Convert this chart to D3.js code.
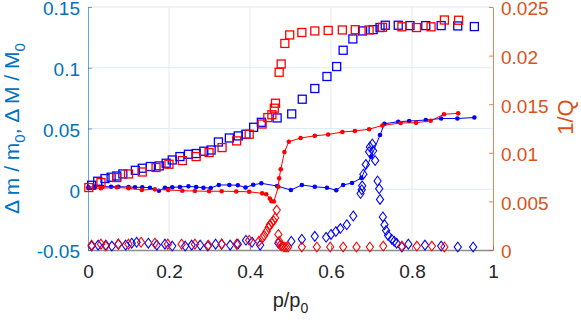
<!DOCTYPE html>
<html>
<head>
<meta charset="utf-8">
<script src="https://cdn.jsdelivr.net/npm/d3@7"></script>
<style>
  body { margin: 0; background: #fff; }
  text { font-family: "Liberation Sans", Arial, Helvetica, sans-serif; }
</style>
</head>
<body>
<div id="chart"></div>
<script>
// ---- data (x = p/p0) ----
// squares, left axis (delta m / m0, delta M / M0)
const blueSqX = [0.009,0.024,0.042,0.057,0.071,0.086,0.117,0.134,0.154,0.176,0.193,0.208,0.227,0.248,0.267,0.286,0.304,0.322,0.349,0.371,0.390,0.409,0.428,0.467,0.503,0.529,0.560,0.590,0.614,0.630,0.654,0.678,0.704,0.721,0.734,0.766,0.795,0.834,0.872,0.913,0.954];
const blueSqY = [0.0033,0.0066,0.0088,0.0099,0.0109,0.0126,0.0156,0.0173,0.0187,0.0192,0.0214,0.0241,0.0269,0.0288,0.0294,0.0313,0.0323,0.0389,0.0422,0.0439,0.0453,0.0510,0.0551,0.0587,0.0620,0.0741,0.0829,0.0928,0.1010,0.1144,0.1237,0.1303,0.1314,0.1331,0.1350,0.1350,0.1347,0.1347,0.1347,0.1344,0.1339];
const redSqX = [0.002,0.032,0.071,0.100,0.134,0.168,0.200,0.233,0.267,0.299,0.331,0.367,0.398,0.430,0.444,0.454,0.460,0.463,0.472,0.477,0.486,0.498,0.528,0.560,0.593,0.628,0.660,0.694,0.727,0.775,0.811,0.847,0.880,0.915];
const redSqY = [0.0014,0.0055,0.0096,0.0126,0.0142,0.0179,0.0206,0.0236,0.0269,0.0302,0.0343,0.0398,0.0453,0.0537,0.0590,0.0613,0.0667,0.0708,0.0963,0.1031,0.1200,0.1270,0.1290,0.1303,0.1307,0.1311,0.1313,0.1311,0.1333,0.1337,0.1331,0.1337,0.1393,0.1391];

// dots with lines, right axis (1/Q)
const blueDotX = [0.001,0.017,0.035,0.057,0.075,0.100,0.116,0.134,0.153,0.175,0.190,0.208,0.227,0.248,0.267,0.285,0.303,0.323,0.349,0.370,0.389,0.408,0.428,0.467,0.501,0.528,0.560,0.590,0.613,0.630,0.652,0.675,0.699,0.721,0.732,0.766,0.793,0.834,0.872,0.912,0.954];
const blueDotY = [0.00645,0.00651,0.00651,0.00651,0.00651,0.00648,0.00645,0.00645,0.00641,0.00610,0.00641,0.00645,0.00648,0.00655,0.00648,0.00641,0.00638,0.00669,0.00669,0.00666,0.00643,0.00671,0.00686,0.00658,0.00617,0.00669,0.00650,0.00641,0.00615,0.00669,0.00689,0.00741,0.00957,0.01183,0.01299,0.01320,0.01327,0.01337,0.01353,0.01353,0.01363];
const redDotX = [0.001,0.032,0.071,0.100,0.133,0.165,0.198,0.233,0.264,0.299,0.330,0.366,0.398,0.430,0.440,0.449,0.453,0.459,0.470,0.472,0.476,0.485,0.496,0.525,0.560,0.593,0.628,0.659,0.694,0.727,0.772,0.810,0.846,0.879,0.914];
const redDotY = [0.00635,0.00635,0.00645,0.00635,0.00617,0.00624,0.00617,0.00610,0.00607,0.00604,0.00605,0.00602,0.00599,0.00583,0.00574,0.00530,0.00502,0.00499,0.00651,0.00737,0.00830,0.01008,0.01114,0.01152,0.01175,0.01188,0.01214,0.01224,0.01243,0.01281,0.01307,0.01310,0.01329,0.01397,0.01406];

// diamonds, right axis
const blueDiaX = [0.009,0.025,0.044,0.059,0.075,0.093,0.108,0.120,0.149,0.170,0.190,0.208,0.240,0.256,0.277,0.296,0.315,0.330,0.351,0.370,0.390,0.405,0.425,0.470,0.502,0.528,0.560,0.588,0.600,0.612,0.623,0.639,0.655,0.673,0.676,0.677,0.680,0.686,0.694,0.696,0.702,0.704,0.709,0.715,0.719,0.721,0.728,0.732,0.736,0.741,0.750,0.756,0.762,0.775,0.791,0.832,0.872,0.913,0.951];
const blueDiaY = [0.0003,0.0004,0.0004,0.0003,0.0005,0.0004,0.0006,0.0007,0.0006,0.0004,0.0005,0.0003,0.0003,0.0004,0.0004,0.0003,0.0005,0.0005,0.0004,0.0005,0.0009,0.0007,0.0004,0.0006,0.0008,0.0010,0.0013,0.0012,0.0015,0.0018,0.0021,0.0025,0.0034,0.0057,0.0061,0.0065,0.0077,0.0087,0.0100,0.0105,0.0108,0.0101,0.0091,0.0070,0.0062,0.0051,0.0033,0.0025,0.0019,0.0014,0.0010,0.0008,0.0006,0.0002,0.0005,0.0004,0.0003,0.0002,0.0002];
const redDiaX = [0.009,0.032,0.044,0.075,0.100,0.131,0.165,0.197,0.231,0.264,0.297,0.330,0.367,0.398,0.422,0.430,0.435,0.441,0.446,0.449,0.454,0.458,0.462,0.466,0.470,0.472,0.475,0.479,0.484,0.489,0.494,0.528,0.565,0.598,0.630,0.663,0.696,0.729,0.775,0.812,0.849,0.880];
const redDiaY = [0.0004,0.0005,0.0003,0.0005,0.0005,0.0007,0.0006,0.0005,0.0005,0.0005,0.0004,0.0005,0.0005,0.0009,0.0008,0.0011,0.0014,0.0018,0.0022,0.0025,0.0027,0.0029,0.0032,0.0040,0.0015,0.0008,0.0004,0.0003,0.0002,0.0002,0.0002,0.0002,0.0002,0.0002,0.0002,0.0002,0.0002,0.0003,0.0003,0.0003,0.0003,0.0002];

const xTicks = [0, 0.2, 0.4, 0.6, 0.8, 1];
const leftTicks = [-0.05, 0, 0.05, 0.1, 0.15];
const rightTicks = [0, 0.005, 0.01, 0.015, 0.02, 0.025];

// ---- layout ----
const W = 581, H = 321;
const margin = {top: 7, right: 88, bottom: 71, left: 88};
const leftColor = "#0072BD", rightColor = "#D95319";

const svg = d3.select("#chart").append("svg")
    .attr("width", W).attr("height", H);

const x = d3.scaleLinear().domain([0, 1]).range([margin.left, W - margin.right]);
const yL = d3.scaleLinear().domain([-0.05, 0.15]).range([H - margin.bottom, margin.top]);
const yR = d3.scaleLinear().domain([0, 0.025]).range([H - margin.bottom, margin.top]);

// matlab style labels, plain hyphen for minus
const fmt = d => String(+d.toFixed(3));

// grid
svg.append("g").selectAll("line").data(xTicks.slice(1, -1)).join("line")
    .attr("x1", d => x(d)).attr("x2", d => x(d))
    .attr("y1", yL.range()[0]).attr("y2", yL.range()[1])
    .attr("stroke", "#e6e9ee").attr("stroke-width", 1);
svg.append("g").selectAll("line").data(leftTicks.slice(1, -1)).join("line")
    .attr("x1", x(0)).attr("x2", x(1))
    .attr("y1", d => yL(d)).attr("y2", d => yL(d))
    .attr("stroke", "#ddebf6").attr("stroke-width", 1);

// box top
svg.append("line").attr("x1", x(0)).attr("x2", x(1))
    .attr("y1", yL(0.15)).attr("y2", yL(0.15))
    .attr("stroke", "#e3e7ec");

// axes
const xAxis = svg.append("g")
    .attr("transform", `translate(0,${H - margin.bottom})`)
    .call(d3.axisBottom(x).tickValues(xTicks).tickSizeInner(-4).tickSizeOuter(0).tickPadding(15).tickFormat(fmt));
xAxis.select(".domain").attr("stroke", "#8c8c8c").attr("stroke-width", 1.5);
xAxis.selectAll(".tick line").attr("stroke", "#8c8c8c");
xAxis.selectAll("text").attr("fill", "#262626").style("font-size", "19px");

const lAxis = svg.append("g")
    .attr("transform", `translate(${margin.left},0)`)
    .call(d3.axisLeft(yL).tickValues(leftTicks).tickSizeInner(-4).tickSizeOuter(0).tickPadding(8).tickFormat(fmt));
lAxis.select(".domain").attr("stroke", leftColor).attr("stroke-opacity", 0.6);
lAxis.selectAll(".tick line").attr("stroke", leftColor).attr("stroke-opacity", 0.6);
lAxis.selectAll("text").attr("fill", leftColor).attr("dy", "0.42em").style("font-size", "19px");

const rAxis = svg.append("g")
    .attr("transform", `translate(${W - margin.right},0)`)
    .call(d3.axisRight(yR).tickValues(rightTicks).tickSizeInner(-4).tickSizeOuter(0).tickPadding(8).tickFormat(fmt));
rAxis.select(".domain").attr("stroke", rightColor).attr("stroke-opacity", 0.7);
rAxis.selectAll(".tick line").attr("stroke", rightColor).attr("stroke-opacity", 0.7);
rAxis.selectAll("text").attr("fill", rightColor).attr("dy", "0.42em").style("font-size", "19px");

svg.selectAll(".tick text").attr("font-family", null);

// ---- marks ----
const plot = svg.append("g");
const zip = (xs, ys) => xs.map((v, i) => [v, ys[i]]);

function diamonds(xs, ys, color) {
    const sym = d3.symbol().type(d3.symbolDiamond2).size(46);
    plot.append("g").selectAll("path").data(zip(xs, ys)).join("path")
        .attr("d", sym)
        .attr("transform", d => `translate(${x(d[0])},${yR(d[1]) - 1}) scale(0.85,1.15)`)
        .attr("fill", "none").attr("stroke", color).attr("stroke-width", 1.1);
}
function dotLine(xs, ys, color) {
    const pts = zip(xs, ys);
    plot.append("path").datum(pts)
        .attr("d", d3.line().x(d => x(d[0])).y(d => yR(d[1])))
        .attr("fill", "none").attr("stroke", color).attr("stroke-width", 1);
    plot.append("g").selectAll("circle").data(pts).join("circle")
        .attr("cx", d => x(d[0])).attr("cy", d => yR(d[1])).attr("r", 2.3)
        .attr("fill", color);
}
function squares(xs, ys, color) {
    const s = 8;
    plot.append("g").selectAll("rect").data(zip(xs, ys)).join("rect")
        .attr("x", d => x(d[0]) - s / 2).attr("y", d => yL(d[1]) - s / 2)
        .attr("width", s).attr("height", s)
        .attr("fill", "none").attr("stroke", color).attr("stroke-width", 1.3);
}

diamonds(blueDiaX, blueDiaY, "#0000ff");
diamonds(redDiaX, redDiaY, "#ff0000");
dotLine(blueDotX, blueDotY, "#0000ff");
dotLine(redDotX, redDotY, "#ff0000");
squares(blueSqX, blueSqY, "#0000ff");
squares(redSqX, redSqY, "#ff0000");

// ---- labels ----
const yl = svg.append("text")
    .attr("transform", `translate(19,${(margin.top + H - margin.bottom) / 2}) rotate(-90)`)
    .attr("text-anchor", "middle").attr("fill", leftColor).style("font-size", "21px");
yl.append("tspan").text("Δ m / m");
yl.append("tspan").text("0").attr("dy", 6).style("font-size", "15px");
yl.append("tspan").text(", Δ M / M").attr("dy", -6);
yl.append("tspan").text("0").attr("dy", 6).style("font-size", "15px");

svg.append("text")
    .attr("transform", `translate(573,117) rotate(-90)`)
    .attr("text-anchor", "middle").attr("fill", rightColor).style("font-size", "22px")
    .text("1/Q");

const xl = svg.append("text")
    .attr("x", x(0.5)).attr("y", 307)
    .attr("text-anchor", "middle").attr("fill", "#262626").style("font-size", "20px");
xl.append("tspan").text("p/p");
xl.append("tspan").text("0").attr("dy", 6).style("font-size", "14px");
</script>
</body>
</html>
